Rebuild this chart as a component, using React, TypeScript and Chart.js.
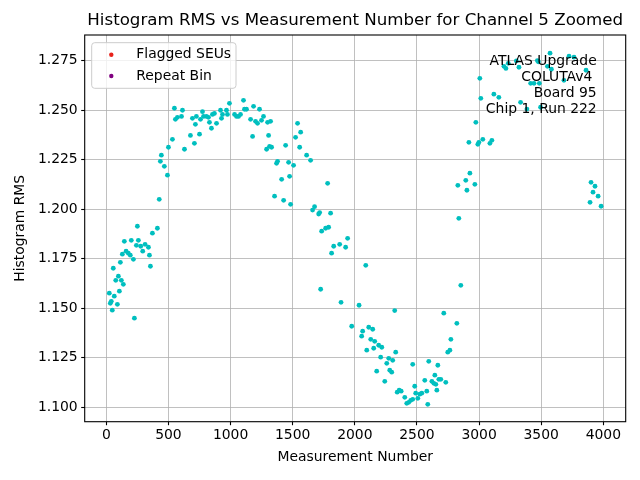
import React, { useEffect, useRef } from "react";
import { Chart, registerables } from "chart.js";

Chart.register(...registerables);

const titleText = "Histogram RMS vs Measurement Number for Channel 5 Zoomed";
const xAxisTitle = "Measurement Number";
const yAxisTitle = "Histogram RMS";
const annotationLines = ["ATLAS Upgrade", "COLUTAv4 ", "Board 95", "Chip 1, Run 222"];

const xTickValues = [0, 500, 1000, 1500, 2000, 2500, 3000, 3500, 4000];
const yTickValues = [1.1, 1.125, 1.15, 1.175, 1.2, 1.225, 1.25, 1.275];

const measurementNumbers = [
  24, 32, 40, 48, 56, 64, 76, 89, 97, 105, 113, 121, 129, 137, 145, 159, 177, 193, 201, 218,
  226, 242, 250, 258, 277, 293, 312, 339, 347, 355, 371, 411, 426, 435, 443, 467, 492, 500, 532, 548,
  556, 572, 605, 613, 629, 677, 693, 709, 717, 725, 750, 758, 774, 782, 806, 822, 830, 846, 854, 870,
  887, 919, 927, 935, 967, 975, 991, 1032, 1048, 1064, 1080, 1104, 1112, 1128, 1161, 1177, 1185, 1201, 1217, 1233,
  1249, 1265, 1290, 1298, 1306, 1314, 1322, 1330, 1354, 1370, 1378, 1411, 1427, 1443, 1467, 1475, 1483, 1507, 1523, 1539,
  1556, 1564, 1612, 1644, 1660, 1676, 1709, 1717, 1725, 1733, 1765, 1781, 1789, 1805, 1813, 1830, 1878, 1889, 1926, 1942,
  1975, 2034, 2055, 2063, 2088, 2096, 2112, 2128, 2144, 2152, 2160, 2176, 2192, 2208, 2217, 2241, 2257, 2273, 2281, 2297,
  2305, 2321, 2329, 2341, 2357, 2373, 2402, 2418, 2434, 2450, 2466, 2466, 2482, 2490, 2507, 2523, 2539, 2563, 2579, 2587,
  2595, 2620, 2636, 2644, 2652, 2660, 2668, 2676, 2692, 2716, 2732, 2748, 2765, 2773, 2821, 2829, 2837, 2853, 2893, 2902,
  2918, 2926, 2966, 2974, 2990, 2998, 3006, 3014, 3030, 3087, 3103, 3119, 3159, 3200, 3216, 3235, 3300, 3321, 3334, 3385,
  3415, 3442, 3469, 3477, 3485, 3495, 3550, 3571, 3582, 3683, 3724, 3764, 3861, 3893, 3901, 3917, 3933, 3958, 3982,
];

const histogramRms = [
  1.1576, 1.1525, 1.1535, 1.149, 1.1702, 1.1561, 1.1641, 1.152, 1.1662, 1.1586, 1.1732, 1.1641, 1.1773, 1.1621, 1.1838, 1.1788, 1.1778, 1.1768, 1.1843, 1.1747,
  1.145, 1.1818, 1.1914, 1.1843, 1.1813, 1.1788, 1.1823, 1.1808, 1.1768, 1.1712, 1.1879, 1.1904, 1.205, 1.2242, 1.2273, 1.2217, 1.2172, 1.2313, 1.2353, 1.251,
  1.2454, 1.2464, 1.2469, 1.25, 1.2303, 1.2373, 1.2459, 1.2333, 1.2429, 1.2469, 1.2379, 1.2454, 1.2493, 1.2469, 1.2469, 1.2464, 1.2439, 1.2409, 1.2479, 1.2484,
  1.2434, 1.25, 1.2459, 1.2479, 1.25, 1.2479, 1.2535, 1.2479, 1.2469, 1.2469, 1.2479, 1.255, 1.2505, 1.2505, 1.2454, 1.2368, 1.252, 1.2444, 1.2434, 1.2505,
  1.2449, 1.2469, 1.2303, 1.2439, 1.2373, 1.2318, 1.2444, 1.2313, 1.2066, 1.2232, 1.2242, 1.2151, 1.2045, 1.2323, 1.2237, 1.2166, 1.2025, 1.2222, 1.2363, 1.2434,
  1.2313, 1.2389, 1.2273, 1.2247, 1.1996, 1.2013, 1.1976, 1.1983, 1.1596, 1.1889, 1.1904, 1.2131, 1.1909, 1.198, 1.1778, 1.1813, 1.1823, 1.153, 1.1808, 1.1853,
  1.1409, 1.1515, 1.1359, 1.1384, 1.1717, 1.1288, 1.1404, 1.1343, 1.1394, 1.1298, 1.1333, 1.1182, 1.1313, 1.1253, 1.1303, 1.1131, 1.1222, 1.1247, 1.1187, 1.1177,
  1.1237, 1.1488, 1.1278, 1.1076, 1.1086, 1.1081, 1.105, 1.102, 1.1025, 1.1035, 1.104, 1.1217, 1.1106, 1.1071, 1.1045, 1.1066, 1.1071, 1.1136, 1.1081, 1.1015,
  1.1232, 1.1131, 1.1121, 1.1162, 1.1116, 1.1086, 1.1212, 1.1141, 1.1141, 1.1475, 1.1126, 1.1278, 1.1288, 1.1343, 1.1424, 1.2121, 1.1954, 1.1616, 1.2146, 1.2096,
  1.2338, 1.2182, 1.2126, 1.2439, 1.2328, 1.2338, 1.2661, 1.256, 1.2353, 1.2333, 1.2348, 1.2581, 1.2565, 1.2722, 1.2711, 1.2737, 1.2749, 1.2717, 1.254, 1.2506,
  1.2636, 1.2636, 1.2751, 1.2745, 1.2636, 1.2515, 1.2722, 1.2788, 1.2707, 1.2651, 1.2773, 1.2768, 1.2702, 1.2035, 1.2136, 1.2086, 1.2116, 1.2066, 1.2015,
];

const flaggedSeuX: number[] = [];
const flaggedSeuY: number[] = [];
const repeatBinX: number[] = [];
const repeatBinY: number[] = [];

const FONT = "'DejaVu Sans', sans-serif";

const overlayPlugin = {
  id: "overlayPlugin",
  afterDraw(chart: any) {
    const { ctx, chartArea: ca } = chart;
    ctx.save();
    // frame (all four spines)
    ctx.strokeStyle = "#000";
    ctx.lineWidth = 1.1;
    ctx.strokeRect(ca.left, ca.top, ca.right - ca.left, ca.bottom - ca.top);

    // title
    ctx.fillStyle = "#000";
    ctx.font = `16.67px ${FONT}`;
    ctx.textAlign = "center";
    ctx.textBaseline = "middle";
    ctx.fillText(titleText, (ca.left + ca.right) / 2, ca.top - 14);

    // annotation text (top right, inside)
    ctx.font = `13.9px ${FONT}`;
    ctx.textAlign = "right";
    annotationLines.forEach((line, i) => {
      ctx.fillText(line, ca.right - 29, ca.top + 26.3 + i * 16);
    });

    // legend box
    const bx = ca.left + 7;
    const by = ca.top + 7.7;
    const bw = 144.3;
    const bh = 45.6;
    ctx.beginPath();
    if (ctx.roundRect) ctx.roundRect(bx, by, bw, bh, 3);
    else ctx.rect(bx, by, bw, bh);
    ctx.fillStyle = "rgba(255,255,255,0.8)";
    ctx.fill();
    ctx.strokeStyle = "#cccccc";
    ctx.lineWidth = 1;
    ctx.stroke();

    const legendDs = chart.data.datasets.filter((d: any) => d.inLegend);
    legendDs.forEach((d: any, i: number) => {
      const y = by + 12 + i * 21.3;
      ctx.beginPath();
      ctx.arc(bx + 19.6, y, 2.2, 0, Math.PI * 2);
      ctx.fillStyle = d.backgroundColor;
      ctx.fill();
      ctx.fillStyle = "#000";
      ctx.textAlign = "left";
      ctx.textBaseline = "middle";
      ctx.font = `13.9px ${FONT}`;
      ctx.fillText(d.label, bx + 44.6, y);
    });
    ctx.restore();
  },
};

export default function App() {
  const canvasRef = useRef<HTMLCanvasElement | null>(null);

  useEffect(() => {
    if (!canvasRef.current) return;
    const mainData = measurementNumbers.map((x, i) => ({ x, y: histogramRms[i] }));
    const flaggedData = flaggedSeuX.map((x, i) => ({ x, y: flaggedSeuY[i] }));
    const repeatData = repeatBinX.map((x, i) => ({ x, y: repeatBinY[i] }));

    const chart = new Chart(canvasRef.current, {
      type: "scatter",
      data: {
        datasets: [
          {
            label: "Histogram RMS",
            data: mainData,
            backgroundColor: "#00bfbf",
            borderWidth: 0,
            pointRadius: 2.4,
          } as any,
          {
            label: "Flagged SEUs",
            data: flaggedData,
            backgroundColor: "#e8221b",
            borderWidth: 0,
            pointRadius: 2.4,
            inLegend: true,
          } as any,
          {
            label: "Repeat Bin",
            data: repeatData,
            backgroundColor: "#800080",
            borderWidth: 0,
            pointRadius: 2.4,
            inLegend: true,
          } as any,
        ],
      },
      options: {
        animation: false,
        responsive: false,
        devicePixelRatio: 1,
        layout: { padding: { top: 35, right: 14.3, bottom: 0, left: 0 } },
        plugins: {
          legend: { display: false },
          tooltip: { enabled: false },
          title: { display: false },
        },
        scales: {
          x: {
            type: "linear",
            min: -174,
            max: 4180,
            afterBuildTicks: (s: any) => {
              s.ticks = xTickValues.map((v) => ({ value: v }));
            },
            afterFit: (s: any) => {
              s.height = 58.3;
            },
            ticks: {
              color: "#000",
              font: { family: FONT, size: 13.9 },
              padding: 2,
              maxRotation: 0,
              autoSkip: false,
              callback: (v: any) => String(v),
            },
            grid: {
              color: "#b0b0b0",
              lineWidth: 0.8,
              tickColor: "#000",
              tickLength: 3.5,
              tickWidth: 1.1,
            },
            border: { display: false },
            title: {
              display: true,
              text: xAxisTitle,
              color: "#000",
              font: { family: FONT, size: 13.9 },
              padding: { top: 0, bottom: 14.6 },
            },
          },
          y: {
            type: "linear",
            min: 1.0927,
            max: 1.288,
            afterBuildTicks: (s: any) => {
              s.ticks = yTickValues.map((v) => ({ value: v }));
            },
            afterFit: (s: any) => {
              s.width = 84.7;
            },
            ticks: {
              color: "#000",
              font: { family: FONT, size: 13.9 },
              padding: 3.5,
              autoSkip: false,
              callback: (v: any) => Number(v).toFixed(3),
            },
            grid: {
              color: "#b0b0b0",
              lineWidth: 0.8,
              tickColor: "#000",
              tickLength: 3.5,
              tickWidth: 1.1,
            },
            border: { display: false },
            title: {
              display: true,
              text: yAxisTitle,
              color: "#000",
              font: { family: FONT, size: 13.9 },
              padding: { top: 11.6, bottom: 0 },
            },
          },
        },
      } as any,
      plugins: [overlayPlugin],
    });
    return () => chart.destroy();
  }, []);

  return (
    <div style={{ position: "fixed", left: 0, top: 0, width: 640, height: 480, background: "#fff" }}>
      <canvas ref={canvasRef} width={640} height={480} style={{ width: 640, height: 480, display: "block" }} />
    </div>
  );
}
